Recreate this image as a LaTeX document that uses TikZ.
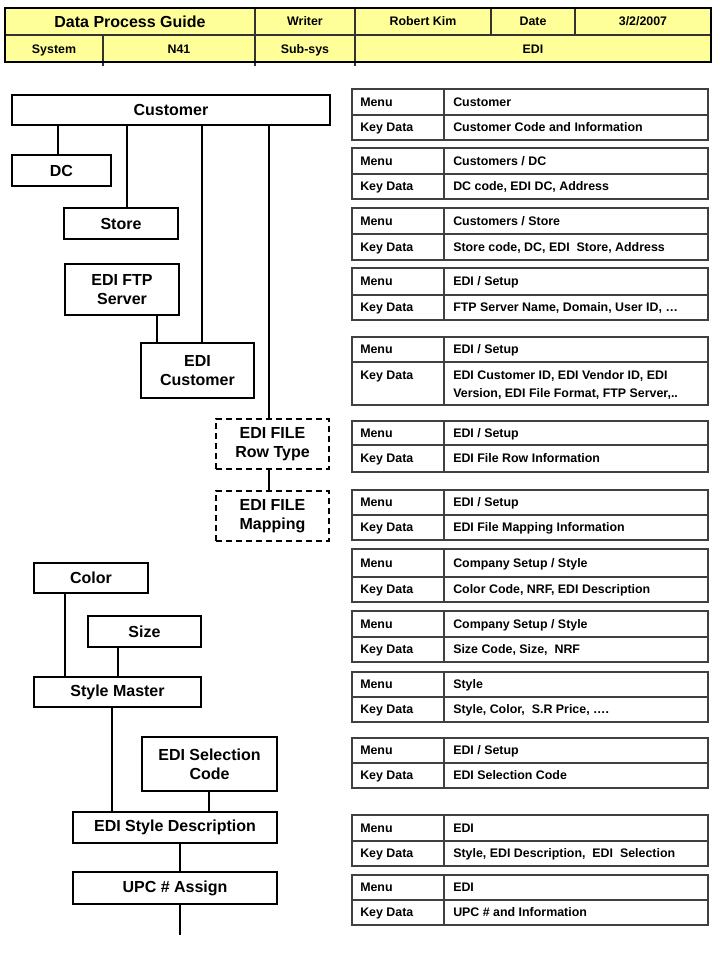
\documentclass[tikz,border=0pt]{standalone}
\usepackage{fontspec}
\setmainfont{Liberation Sans}
\begin{document}
\begin{tikzpicture}[x=0.75pt,y=-0.75pt,
  box/.style={draw=black,line width=1.6pt,fill=white,inner sep=0pt,align=center,font=\fontsize{12}{14.5}\selectfont\bfseries},
  dbox/.style={box,dashed,dash pattern=on 4.5pt off 3pt},
  conn/.style={draw=black,line width=0.8pt},
  tabline/.style={draw=black!75,line width=1.1pt},
  tabtxt/.style={anchor=base west,inner sep=0pt,align=left,font=\fontsize{9.3}{11.5}\selectfont\bfseries},
  hdtxt/.style={anchor=base,inner sep=0pt,font=\fontsize{9.3}{11}\selectfont\bfseries},
  hdline/.style={draw=black!80,line width=0.8pt}]
\useasboundingbox (0,0) rectangle (720,960);
\definecolor{hdyellow}{HTML}{FFFF99}
% ---------- header ----------
\fill[hdyellow] (5,8) rectangle (711,62);
\draw[hdline] (5,35) -- (711,35);
\draw[hdline] (255,8) -- (255,66) (355,8) -- (355,66) (491,8) -- (491,35) (575,8) -- (575,35) (103,35) -- (103,66);
\draw[black,line width=2pt] (5,8) rectangle (711,62);
\node[hdtxt,font=\fontsize{12}{14}\selectfont\bfseries] (h1) at (130,27) {Data Process Guide};
\node[hdtxt] (h2) at (305,26) {Writer};
\node[hdtxt] (h3) at (423,26) {Robert Kim};
\node[hdtxt] (h4) at (533,26) {Date};
\node[hdtxt] (h5) at (643,26) {3/2/2007};
\node[hdtxt] (h6) at (54,53) {System};
\node[hdtxt] (h7) at (179,53) {N41};
\node[hdtxt] (h8) at (305,53) {Sub-sys};
\node[hdtxt] (h9) at (533,53) {EDI};
% ---------- left hierarchy ----------
\node[box,minimum width=318*0.75pt,minimum height=30*0.75pt] (cust) at (171,110) {Customer};
\node[box,minimum width=99*0.75pt,minimum height=31*0.75pt] (dc) at (61.5,170.5) {DC};
\node[box,minimum width=114*0.75pt,minimum height=31*0.75pt] (store) at (121,223.5) {Store};
\node[box,minimum width=114*0.75pt,minimum height=51*0.75pt] (ftp) at (122,289.5) {EDI FTP\\Server};
\node[box,minimum width=113*0.75pt,minimum height=55*0.75pt] (edicust) at (197.5,370.5) {EDI\\Customer};
\node[dbox,minimum width=113*0.75pt,minimum height=50*0.75pt] (rowtype) at (272.5,444) {EDI FILE\\Row Type};
\node[dbox,minimum width=113*0.75pt,minimum height=50*0.75pt] (mapping) at (272.5,516) {EDI FILE\\Mapping};
\node[box,minimum width=114*0.75pt,minimum height=30*0.75pt] (color) at (91,578) {Color};
\node[box,minimum width=113*0.75pt,minimum height=31*0.75pt] (size) at (144.5,631.5) {Size};
\node[box,minimum width=167*0.75pt,minimum height=30*0.75pt] (stylem) at (117.5,692) {Style Master};
\node[box,minimum width=135*0.75pt,minimum height=54*0.75pt] (selcode) at (209.5,764) {EDI Selection\\Code};
\node[box,minimum width=204*0.75pt,minimum height=31*0.75pt] (styledesc) at (175,827.5) {EDI Style Description};
\node[box,minimum width=204*0.75pt,minimum height=32*0.75pt] (upc) at (175,888) {UPC \# Assign};
\coordinate (upcend) at (180,935);
% connectors
\draw[conn] (cust.south -| 58,0) -- (dc.north -| 58,0);
\draw[conn] (cust.south -| 127,0) -- (store.north -| 127,0);
\draw[conn] (cust.south -| 202,0) -- (edicust.north -| 202,0);
\draw[conn] (cust.south -| 269,0) -- (rowtype.north -| 269,0);
\draw[conn] (ftp.south -| 157,0) -- (edicust.north -| 157,0);
\draw[conn] (rowtype.south -| 269,0) -- (mapping.north -| 269,0);
\draw[conn] (color.south -| 65,0) -- (stylem.north -| 65,0);
\draw[conn] (size.south -| 118,0) -- (stylem.north -| 118,0);
\draw[conn] (stylem.south -| 112,0) -- (styledesc.north -| 112,0);
\draw[conn] (selcode.south -| 209,0) -- (styledesc.north -| 209,0);
\draw[conn] (styledesc.south -| 180,0) -- (upc.north -| 180,0);
\draw[conn] (upc.south -| 180,0) -- (upcend);
% ---------- right tables ----------
\newcommand\infotab[6]{%
  \draw[tabline] (352,#2) rectangle (708,#4);
  \draw[tabline] (352,#3) -- (708,#3) (444,#2) -- (444,#4);
  \node[tabtxt] (#1m) at (360,{(#2+#3)/2+4.4}) {Menu};
  \node[tabtxt] (#1mv) at (453,{(#2+#3)/2+4.4}) {#5};
  \node[tabtxt] (#1k) at (360,{(#3+#4)/2+4.4}) {Key Data};
  \node[tabtxt] (#1kv) at (453,{(#3+#4)/2+4.4}) {#6};
}
\infotab{ta}{89}{115}{140}{Customer}{Customer Code and Information}
\infotab{tb}{148}{174}{199}{Customers / DC}{DC code, EDI DC, Address}
\infotab{tc}{208}{234}{260}{Customers / Store}{Store code, DC, EDI\ \ Store, Address}
\infotab{td}{268}{295}{320}{EDI / Setup}{FTP Server Name, Domain, User ID, \dots}
\infotab{tf}{421}{445}{472}{EDI / Setup}{EDI File Row Information}
\infotab{tg}{490}{515}{540}{EDI / Setup}{EDI File Mapping Information}
\infotab{th}{549}{577}{602}{Company Setup / Style}{Color Code, NRF, EDI Description}
\infotab{ti}{611}{637}{662}{Company Setup / Style}{Size Code, Size,\ \ NRF}
\infotab{tj}{672}{697}{722}{Style}{Style, Color,\ \ S.R Price, \dots.}
\infotab{tk}{738}{763}{788}{EDI / Setup}{EDI Selection Code}
\infotab{tl}{815}{841}{866}{EDI}{Style, EDI Description,\ \ EDI\ \ Selection}
\infotab{tm}{875}{900}{925}{EDI}{UPC \# and Information}
% table with two-line key data
\draw[tabline] (352,337) rectangle (708,405);
\draw[tabline] (352,362) -- (708,362) (444,337) -- (444,405);
\node[tabtxt] (tem) at (360,{(337+362)/2+4.4}) {Menu};
\node[tabtxt] (temv) at (453,{(337+362)/2+4.4}) {EDI / Setup};
\node[tabtxt] (tek) at (360,379) {Key Data};
\node[tabtxt] (tekv1) at (453,379) {EDI Customer ID, EDI Vendor ID, EDI};
\node[tabtxt] (tekv2) at (453,397) {Version, EDI File Format, FTP Server,..};
\end{tikzpicture}
\end{document}
